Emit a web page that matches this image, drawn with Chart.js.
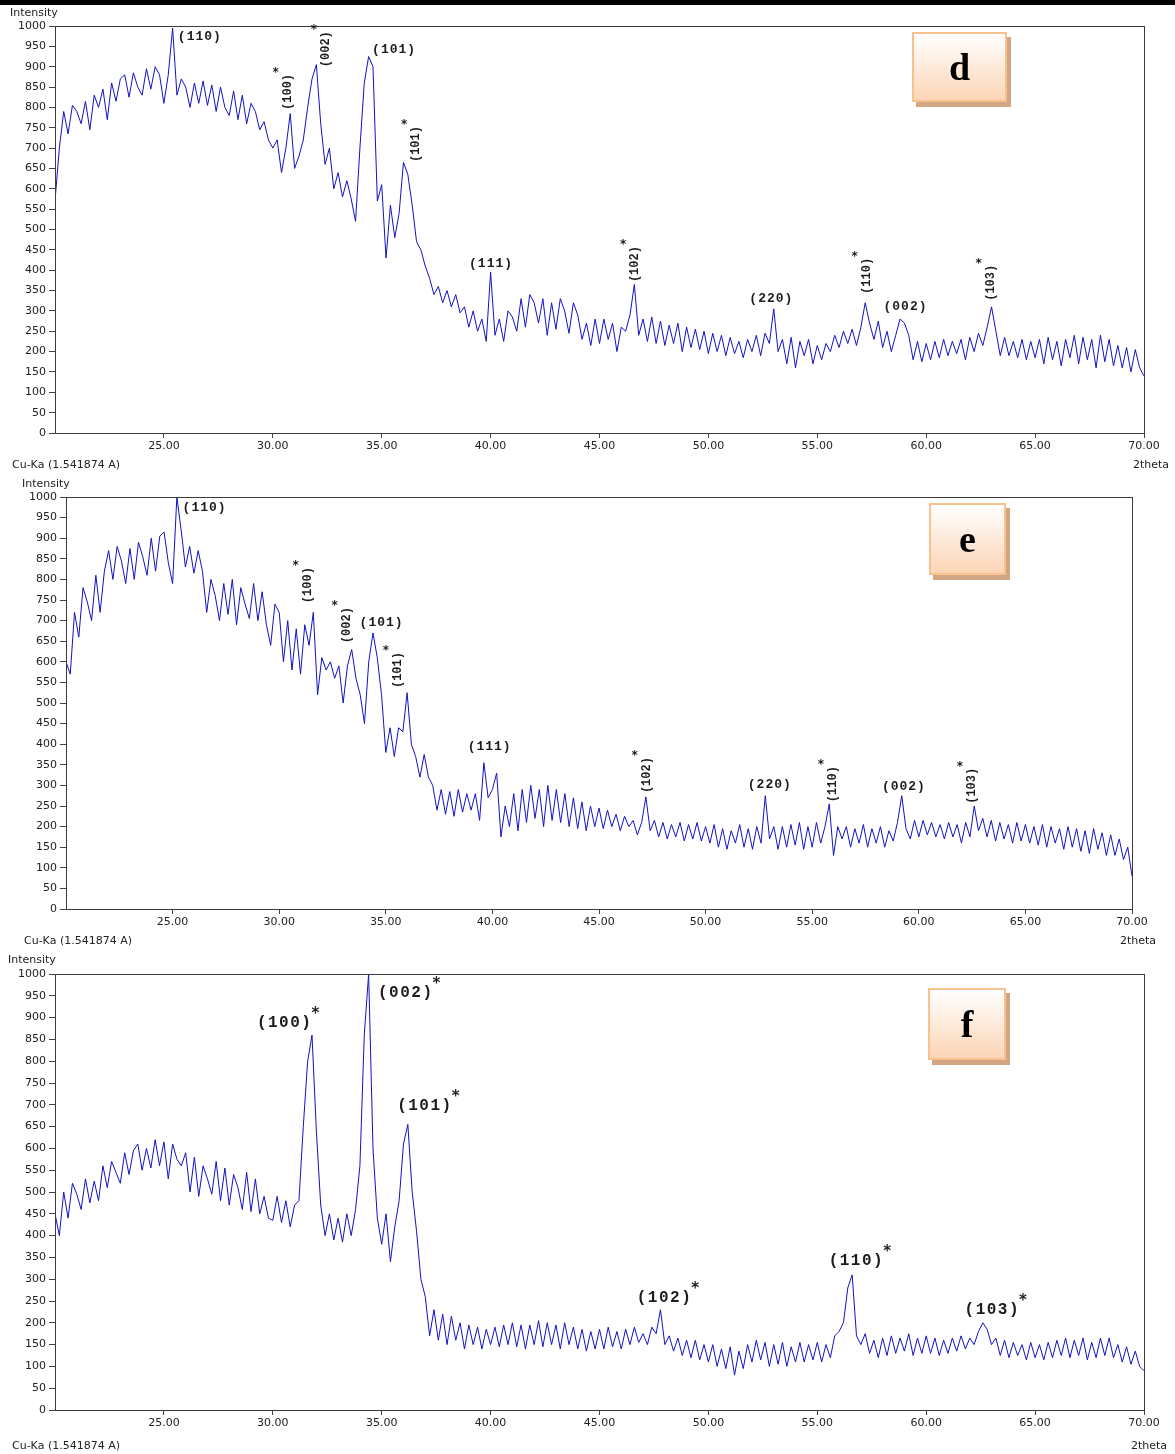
<!DOCTYPE html>
<html>
<head>
<meta charset="utf-8">
<script src="https://cdn.jsdelivr.net/npm/chart.js@4.4.0/dist/chart.umd.min.js"></script>
<style>
  body { margin: 0; background: #fff; width: 1175px; height: 1454px; position: relative; overflow: hidden; font-family: "DejaVu Sans", sans-serif; }
  .topbar { position: absolute; left: 0; top: 0; width: 1175px; height: 5px; background: #000; }
  canvas { position: absolute; left: 0; }
  .lbl { position: absolute; font-size: 11px; line-height: 14px; color: #222; white-space: nowrap; }
  .badge { position: absolute; box-sizing: border-box; border: 2px solid #f8c28e; background: linear-gradient(#ffffff, #fcd5b6);
           box-shadow: 4px 5px 0 #d2a683; font: bold 38px "Liberation Serif", serif; color: #000;
           display: flex; align-items: center; justify-content: center; }
</style>
</head>
<body>
<div class="topbar"></div>

<canvas id="xrd-d" width="1175" height="475" style="top:0"></canvas>
<canvas id="xrd-e" width="1175" height="470" style="top:475px"></canvas>
<canvas id="xrd-f" width="1175" height="509" style="top:945px"></canvas>

<div class="lbl" style="left:10px;top:6px">Intensity</div>
<div class="lbl" style="left:12px;top:458px">Cu-Ka (1.541874 A)</div>
<div class="lbl" style="left:1133px;top:458px">2theta</div>
<div class="badge" style="left:912px;top:32px;width:95px;height:70px">d</div>

<div class="lbl" style="left:22px;top:477px">Intensity</div>
<div class="lbl" style="left:24px;top:934px">Cu-Ka (1.541874 A)</div>
<div class="lbl" style="left:1120px;top:934px">2theta</div>
<div class="badge" style="left:929px;top:503px;width:77px;height:72px">e</div>

<div class="lbl" style="left:8px;top:953px">Intensity</div>
<div class="lbl" style="left:12px;top:1439px">Cu-Ka (1.541874 A)</div>
<div class="lbl" style="left:1131px;top:1439px">2theta</div>
<div class="badge" style="left:928px;top:988px;width:78px;height:72px">f</div>

<script>
// =========================================================================
// Difractogramas XRD (d, e, f) — Cu-Ka, paso de 0.2° en 2theta
// =========================================================================
const twoThetaStart = 20;
const twoThetaStep = 0.2;
const xTickValues = [25, 30, 35, 40, 45, 50, 55, 60, 65, 70];
const yTickValues = [0, 50, 100, 150, 200, 250, 300, 350, 400, 450, 500, 550, 600, 650, 700, 750, 800, 850, 900, 950, 1000];

// intensidades leídas cada 0.2° desde 20.0 hasta 70.0
const intensityD = [
  570,700,790,735,805,790,760,815,745,830,800,845,770,860,815,870,880,825,885,850,830,895,845,900,880,
  810,880,995,830,870,850,800,860,810,865,805,855,790,850,800,780,840,770,830,760,810,790,745,765,720,
  700,720,640,700,785,650,680,720,800,870,905,760,660,700,600,640,580,620,575,520,700,860,925,900,570,
  610,430,560,480,540,665,635,560,470,450,410,380,340,360,320,350,310,340,295,310,260,300,250,280,225,
  395,240,280,225,300,285,250,330,260,340,320,270,330,240,320,255,330,300,245,320,290,230,270,215,280,
  220,280,230,270,200,260,250,290,365,240,280,225,285,220,275,215,265,220,270,200,260,210,255,205,250,
  195,245,200,240,190,235,195,225,185,230,200,240,190,245,220,305,200,230,170,235,160,225,190,230,170,
  215,180,220,200,240,210,250,220,255,215,260,320,270,230,275,210,250,200,240,280,270,240,180,225,175,
  220,180,225,185,230,190,225,195,230,180,235,200,245,215,260,310,250,190,235,190,225,185,230,180,225,
  185,230,170,235,180,225,165,230,185,240,170,235,180,230,160,240,175,230,165,215,160,210,150,205,160,
  140
];
const intensityE = [
  600,570,720,660,780,745,700,810,720,820,870,800,880,845,790,875,800,890,855,810,900,820,905,915,840,
  790,1000,920,830,880,815,870,820,720,800,760,700,790,715,800,690,780,740,705,790,700,770,690,640,740,
  720,600,700,580,680,570,690,640,720,520,610,580,600,560,590,500,590,630,560,520,450,600,670,610,520,
  380,440,370,440,430,525,400,370,320,375,320,300,240,290,230,285,225,290,235,280,240,280,215,355,270,
  290,330,175,250,200,280,190,290,210,300,220,290,200,300,215,290,210,280,200,270,195,260,190,250,200,
  245,195,240,200,230,190,225,200,215,180,210,272,190,215,175,210,170,205,175,210,165,205,170,210,165,
  200,160,205,150,195,145,190,160,205,150,195,145,200,160,275,170,200,145,200,150,205,155,210,145,200,
  150,210,160,200,255,130,200,170,200,150,195,160,205,150,195,160,200,150,190,165,210,275,195,170,215,
  175,215,180,210,175,205,170,210,175,205,160,210,175,250,190,220,175,215,165,210,170,205,160,210,165,
  205,160,200,155,205,150,200,160,195,145,200,150,195,140,190,135,195,145,185,130,180,130,170,120,150,
  80
];
const intensityF = [
  450,400,500,440,520,495,460,530,475,525,480,560,510,570,545,520,590,540,595,610,550,600,555,620,560,
  615,530,610,575,560,590,500,580,490,560,530,495,570,480,555,470,540,510,460,545,455,530,450,490,440,
  435,490,430,480,420,470,480,650,800,860,640,470,400,450,390,440,385,450,400,460,560,860,1000,600,440,
  380,450,340,420,480,610,655,500,410,300,260,170,230,160,220,150,215,160,200,140,195,150,190,140,185,
  150,190,145,195,150,200,145,195,140,195,150,205,145,200,150,195,140,200,150,190,140,185,135,180,140,
  185,140,190,145,180,140,185,150,190,155,175,150,190,175,230,150,170,135,165,125,160,120,160,115,150,
  110,150,100,140,95,145,80,135,95,150,110,160,115,155,100,150,105,155,100,145,110,155,110,150,115,
  155,110,150,120,170,180,200,280,310,170,150,175,130,160,120,165,125,170,130,165,135,175,125,165,130,
  170,130,165,125,160,130,165,135,170,140,165,150,180,200,185,150,165,125,160,120,155,125,150,115,155,
  120,150,115,155,120,160,125,165,120,160,125,165,115,155,120,165,125,165,120,150,110,145,105,135,100,
  90
];

// etiquetas de picos: texto, 2theta y nivel de intensidad del rótulo
const peaksD = [
  { text: '(110)', at: 25.64, level: 973, vertical: false, star: false },
  { text: '(100)', at: 30.68, level: 838, vertical: true,  star: true },
  { text: '(002)', at: 32.44, level: 943, vertical: true,  star: true },
  { text: '(101)', at: 34.56, level: 941, vertical: false, star: false },
  { text: '(101)', at: 36.58, level: 710, vertical: true,  star: true },
  { text: '(111)', at: 39.01, level: 415, vertical: false, star: false },
  { text: '(102)', at: 46.64, level: 415, vertical: true,  star: true },
  { text: '(220)', at: 51.88, level: 329, vertical: false, star: false },
  { text: '(110)', at: 57.26, level: 386, vertical: true,  star: true },
  { text: '(002)', at: 58.04, level: 310, vertical: false, star: false },
  { text: '(103)', at: 62.96, level: 369, vertical: true,  star: true }
];
const peaksE = [
  { text: '(110)', at: 25.47, level: 973, vertical: false, star: false },
  { text: '(100)', at: 31.33, level: 786, vertical: true,  star: true },
  { text: '(002)', at: 33.16, level: 689, vertical: true,  star: true },
  { text: '(101)', at: 33.77, level: 694, vertical: false, star: false },
  { text: '(101)', at: 35.57, level: 580, vertical: true,  star: true },
  { text: '(111)', at: 38.84, level: 393, vertical: false, star: false },
  { text: '(102)', at: 47.24, level: 325, vertical: true,  star: true },
  { text: '(220)', at: 51.98, level: 301, vertical: false, star: false },
  { text: '(110)', at: 55.97, level: 303, vertical: true,  star: true },
  { text: '(002)', at: 58.27, level: 296, vertical: false, star: false },
  { text: '(103)', at: 62.49, level: 299, vertical: true,  star: true }
];
const peaksF = [
  { text: '(100)', at: 29.27, level: 888, vertical: false, star: true },
  { text: '(002)', at: 34.83, level: 956, vertical: false, star: true },
  { text: '(101)', at: 35.71, level: 697, vertical: false, star: true },
  { text: '(102)', at: 46.71, level: 257, vertical: false, star: true },
  { text: '(110)', at: 55.52, level: 342, vertical: false, star: true },
  { text: '(103)', at: 61.76, level: 229, vertical: false, star: true }
];

Chart.defaults.font.family = '"DejaVu Sans", sans-serif';
Chart.defaults.font.size = 11;
Chart.defaults.color = '#222';

// marco del área + rótulos de picos
const peakLabelsPlugin = {
  id: 'peakLabels',
  afterDatasetsDraw(chart, args, opts) {
    const { ctx, chartArea: a, scales: { x, y } } = chart;
    ctx.save();
    ctx.strokeStyle = '#3a3a3a';
    ctx.lineWidth = 1;
    ctx.strokeRect(Math.round(a.left) + 0.5, Math.round(a.top) + 0.5, Math.round(a.right - a.left), Math.round(a.bottom - a.top));
    ctx.fillStyle = '#1c1c1c';
    opts.peaks.forEach(p => {
      const px = x.getPixelForValue(p.at);
      const py = y.getPixelForValue(p.level);
      if (p.vertical) {
        ctx.font = opts.vFont;
        ctx.letterSpacing = '0px';
        const w = ctx.measureText(p.text).width;
        ctx.save();
        ctx.translate(px, py);
        ctx.rotate(-Math.PI / 2);
        ctx.textAlign = 'center';
        ctx.textBaseline = 'middle';
        ctx.fillText(p.text, 0, 0);
        ctx.restore();
        if (p.star) {
          ctx.font = opts.starFont;
          ctx.textAlign = 'center';
          ctx.textBaseline = 'alphabetic';
          ctx.fillText('*', px - 12, py - w / 2 + 2);
        }
      } else {
        ctx.font = opts.hFont;
        ctx.letterSpacing = opts.spacing;
        ctx.textAlign = 'left';
        ctx.textBaseline = 'middle';
        ctx.fillText(p.text, px, py);
        const w = ctx.measureText(p.text).width;
        if (p.star) {
          ctx.font = opts.starFont;
          ctx.letterSpacing = '0px';
          ctx.fillText('*', px + w - 1, py - 9);
        }
      }
    });
    ctx.restore();
  }
};

function makeXrdChart(canvasId, values, peaks, frame, labelStyle) {
  const points = values.map((v, i) => ({ x: twoThetaStart + i * twoThetaStep, y: v }));
  return new Chart(document.getElementById(canvasId), {
    type: 'line',
    data: { datasets: [{ data: points, borderColor: '#1212c4', borderWidth: 1, pointRadius: 0, tension: 0, fill: false }] },
    options: {
      responsive: false, animation: false, events: [],
      layout: { padding: { top: frame.top, right: frame.right, left: 0, bottom: 0 } },
      plugins: { legend: { display: false }, tooltip: { enabled: false },
                 peakLabels: Object.assign({ peaks }, labelStyle) },
      scales: {
        x: {
          type: 'linear', min: 20, max: 70,
          afterBuildTicks: s => { s.ticks = xTickValues.map(v => ({ value: v })); },
          afterFit: s => { s.height = frame.xHeight; },
          ticks: { autoSkip: false, maxRotation: 0, padding: 2, callback: v => Number(v).toFixed(2) },
          grid: { drawOnChartArea: false, tickLength: 5, color: '#444' },
          border: { color: '#3a3a3a' }
        },
        y: {
          min: 0, max: 1000,
          afterBuildTicks: s => { s.ticks = yTickValues.map(v => ({ value: v })); },
          afterFit: s => { s.width = frame.yWidth; },
          ticks: { autoSkip: false, padding: 3, callback: v => String(v) },
          grid: { drawOnChartArea: false, tickLength: 6, color: '#444' },
          border: { color: '#3a3a3a' }
        }
      }
    },
    plugins: [peakLabelsPlugin]
  });
}

const smallLabels = { hFont: 'bold 13px "Liberation Mono", monospace', vFont: 'bold 12px "Liberation Mono", monospace',
                      spacing: '1px', starFont: 'bold 12px "DejaVu Sans", sans-serif' };
const bigLabels = { hFont: 'bold 16px "Liberation Mono", monospace', vFont: 'bold 16px "Liberation Mono", monospace',
                    spacing: '1.5px', starFont: 'bold 15px "DejaVu Sans", sans-serif' };

makeXrdChart('xrd-d', intensityD, peaksD, { top: 26, right: 31, yWidth: 55, xHeight: 42 }, smallLabels);
makeXrdChart('xrd-e', intensityE, peaksE, { top: 22, right: 43, yWidth: 66, xHeight: 36 }, smallLabels);
makeXrdChart('xrd-f', intensityF, peaksF, { top: 29, right: 31, yWidth: 55, xHeight: 44 }, bigLabels);
</script>
</body>
</html>
